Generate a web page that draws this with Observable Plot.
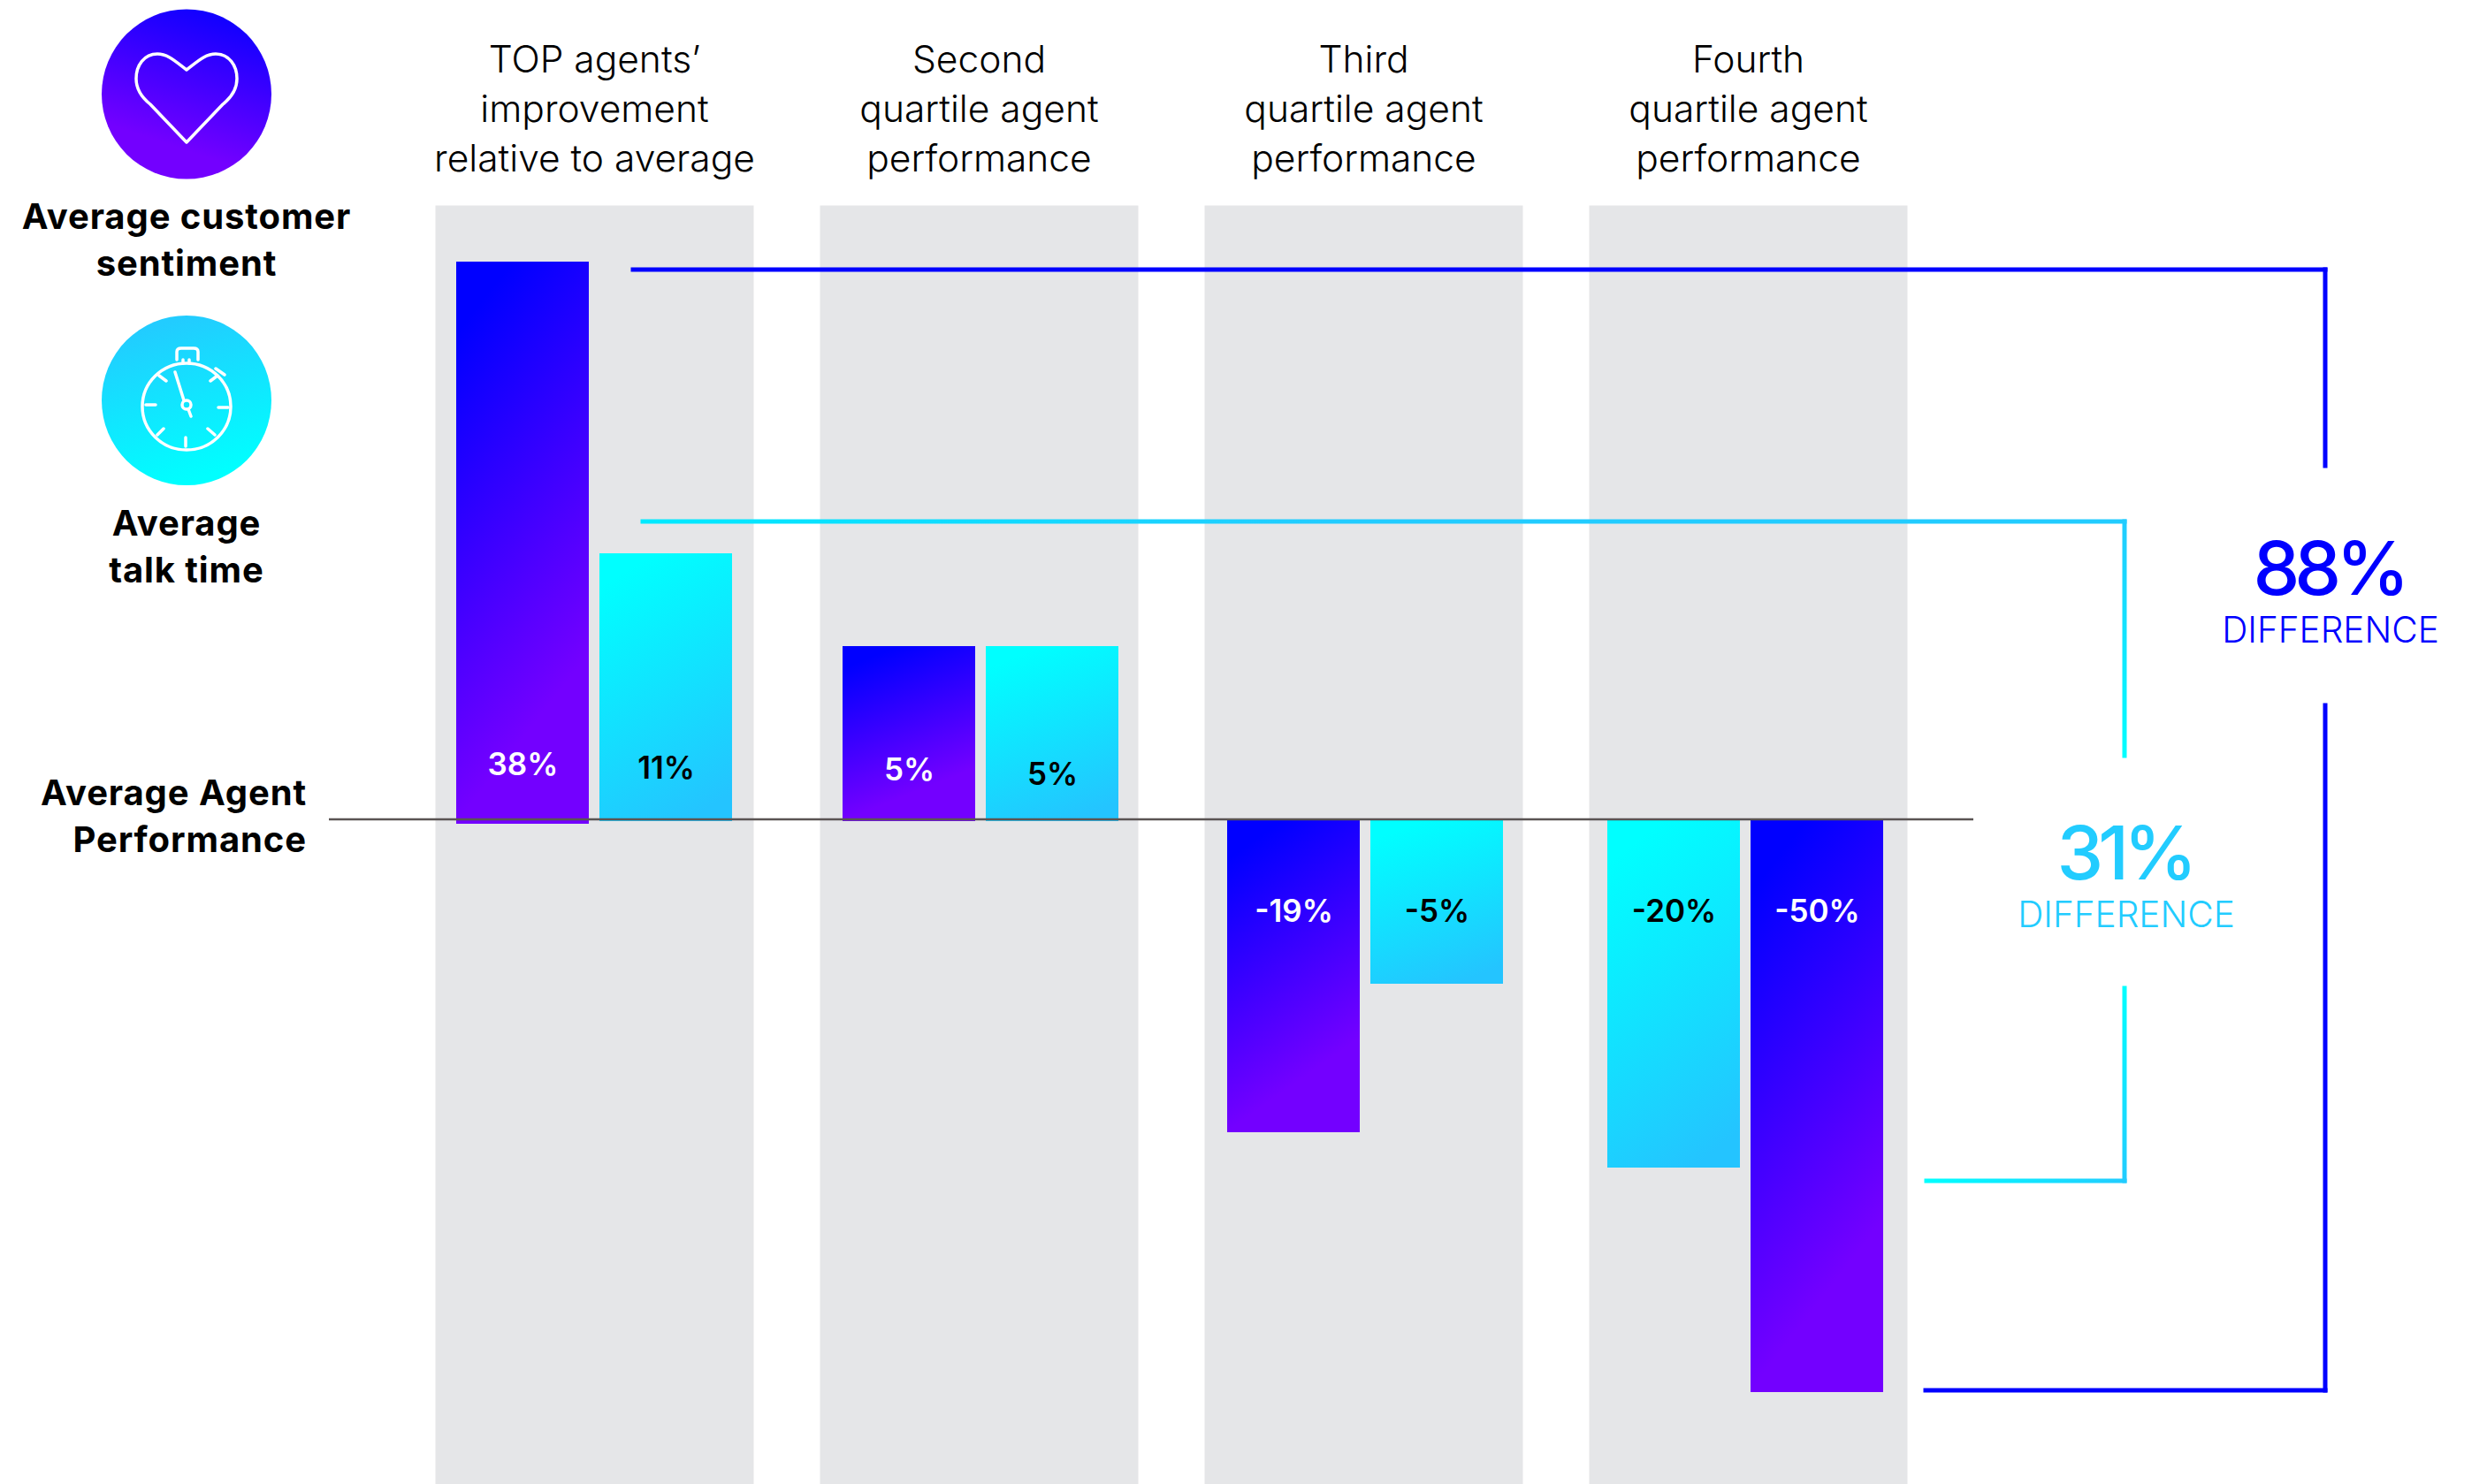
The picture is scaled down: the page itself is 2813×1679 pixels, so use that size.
<!DOCTYPE html>
<html>
<head>
<meta charset="utf-8">
<script src="https://cdn.jsdelivr.net/npm/d3@7"></script>
<script src="https://cdn.jsdelivr.net/npm/@observablehq/plot@0.6"></script>
<style>
  html, body { margin: 0; background: #fff; }
  svg { display: block; }
</style>
</head>
<body>
<div id="chart"></div>
<script>
// Agent quartiles and the two metrics compared within each of them.
const quartiles = [
  "TOP agents’\nimprovement\nrelative to average",
  "Second\nquartile agent\nperformance",
  "Third\nquartile agent\nperformance",
  "Fourth\nquartile agent\nperformance"
];
const sentimentValues = [38, 5, -19, -50];
const talkTimeValues = [11, 5, -5, -20];
const sentimentLabels = ["38%", "5%", "-19%", "-50%"];
const talkTimeLabels = ["11%", "5%", "-5%", "-20%"];
// Which metric sits in the left slot of each quartile.
const leftMetric = ["sentiment", "sentiment", "sentiment", "talk"];

const FONT = "Inter, 'Noto Sans', sans-serif";

const rows = quartiles.flatMap((quartile, i) => [
  {quartile, i, metric: "sentiment", value: sentimentValues[i], label: sentimentLabels[i],
   slot: leftMetric[i] === "sentiment" ? "left" : "right"},
  {quartile, i, metric: "talk", value: talkTimeValues[i], label: talkTimeLabels[i],
   slot: leftMetric[i] === "talk" ? "left" : "right"}
]);

// The value axis is hand-drawn and not proportional, so it is piecewise.
const yBreaks = [-50, -20, -19, -5, 0, 5, 11, 38];
const yPixels = [1575, 1321, 1281, 1113, 927, 731, 626, 296];

const fillFor = d => d.metric === "sentiment" ? "url(#grad-sentiment)" : "url(#grad-talk)";
const shiftFor = d => d.i === 3 ? -3 : d.i === 0 ? 0 : 2;
const overhangFor = d => d.value <= 0 ? 0 : d.value === 38 ? -5 : -2;
const labelDy = d => {
  if (d.value < 0) return 104;
  if (d.value === 38) return -62;
  if (d.value === 11) return -58;
  return d.metric === "sentiment" ? -56 : -51;
};

const plot = Plot.plot({
  width: 2813,
  height: 1679,
  marginTop: 232,
  marginBottom: 0,
  marginLeft: 492,
  marginRight: 656,
  style: {fontFamily: FONT, background: "#fff", color: "#000"},
  fx: {domain: quartiles, paddingInner: 75 / 435, paddingOuter: 0, round: false, axis: null, label: null},
  x: {domain: ["left", "right"], paddingInner: 12 / 162, paddingOuter: 24 / 162, round: false, axis: null, label: null},
  y: {type: "linear", domain: yBreaks, range: yPixels, axis: null, label: null},
  marks: [
    Plot.frame({fill: "#e5e6e8"}),
    Plot.axisFx({
      anchor: "top", tickSize: 0, tickPadding: 39, label: null,
      fontSize: 42.5, fontWeight: 300, lineHeight: 56 / 42.5, fill: "#000", tickFormat: d => d
    }),
    ...rows.map(d => Plot.barY([d], {
      fx: "quartile", x: "slot", y1: 0, y2: "value",
      fill: fillFor(d), dx: shiftFor(d), insetBottom: overhangFor(d)
    })),
    ...rows.map(d => Plot.text([d], {
      fx: "quartile", x: "slot", y: 0, text: "label",
      dy: labelDy(d), dx: shiftFor(d),
      fontSize: 35, fontWeight: 600,
      fill: d.metric === "sentiment" ? "#fff" : "#000"
    }))
  ]
});

const root = d3.select(plot);
const y = plot.scale("y").apply;
const defs = root.insert("defs", ":first-child");

function linear(id, [x1, y1, x2, y2], stops, units) {
  const g = defs.append("linearGradient").attr("id", id)
    .attr("x1", x1).attr("y1", y1).attr("x2", x2).attr("y2", y2);
  if (units) g.attr("gradientUnits", units);
  stops.forEach(([offset, color]) => g.append("stop").attr("offset", offset).attr("stop-color", color));
}

linear("grad-sentiment", [0.35, 0, 0.65, 1], [[0.02, "#0000ff"], [0.82, "#7300ff"]]);
linear("grad-talk", [0.35, 0, 0.65, 1], [[0.02, "#00ffff"], [1, "#24c4ff"]]);
linear("grad-heart", [0.7, 0.05, 0.4, 0.95], [[0, "#1200ff"], [0.85, "#7300ff"]]);
linear("grad-watch", [0.35, 0.05, 0.6, 0.95], [[0, "#22ccff"], [1, "#00ffff"]]);

// Baseline for "Average Agent Performance", over the bars.
root.append("line")
  .attr("x1", 372).attr("x2", 2232).attr("y1", y(0)).attr("y2", y(0))
  .attr("stroke", "#5a5453").attr("stroke-width", 2.5);

// Brackets tying the top and bottom performers together.
const BLUE = "#0000ff", SKY = "#22ccff", AQUA = "#00ffff";
const top1 = y(38) + 9, bottom1 = y(-50) - 2;
const top2 = y(11) - 36, bottom2 = y(-20) + 15;
const xBlue = 2630, xSky = 2403;

function segment(x1, y1, x2, y2, stroke) {
  root.append("line").attr("x1", x1).attr("y1", y1).attr("x2", x2).attr("y2", y2)
    .attr("stroke", stroke).attr("stroke-width", 5).attr("stroke-linecap", "square");
}
linear("sky-a", [725, 0, 1500, 0], [[0, "#00eaff"], [1, SKY]], "userSpaceOnUse");
linear("sky-b", [0, top2, 0, 857], [[0, SKY], [1, AQUA]], "userSpaceOnUse");
linear("sky-c", [0, 1116, 0, bottom2], [[0, AQUA], [1, SKY]], "userSpaceOnUse");
linear("sky-d", [2177, 0, xSky, 0], [[0, AQUA], [1, SKY]], "userSpaceOnUse");

segment(716, top1, xBlue, top1, BLUE);
segment(xBlue, top1, xBlue, 527, BLUE);
segment(xBlue, 798, xBlue, bottom1, BLUE);
segment(2178, bottom1, xBlue, bottom1, BLUE);

segment(727, top2, xSky, top2, "url(#sky-a)");
segment(xSky, top2, xSky, 855, "url(#sky-b)");
segment(xSky, 1118, xSky, bottom2, "url(#sky-c)");
segment(2179, bottom2, xSky, bottom2, "url(#sky-d)");

function label(text, x, yMid, size, weight, fill, anchor = "middle", tracking = 0) {
  root.append("text").text(text)
    .attr("x", x).attr("y", yMid).attr("dominant-baseline", "central")
    .attr("text-anchor", anchor).attr("font-family", FONT)
    .attr("font-size", size).attr("font-weight", weight).attr("fill", fill)
    .attr("letter-spacing", tracking);
}

label("88%", 2634, 642, 84, 500, BLUE, "middle", -6);
label("DIFFERENCE", 2636, 712, 40.5, 300, BLUE);
label("31%", 2403, 964, 84, 500, SKY, "middle", -6);
label("DIFFERENCE", 2405, 1034, 40.5, 300, SKY);

label("Average customer", 211, 244, 40, 700, "#000", "middle", 0.9);
label("sentiment", 211, 297, 40, 700, "#000", "middle", 0.9);
label("Average", 211, 591, 40, 700, "#000", "middle", 0.9);
label("talk time", 211, 644, 40, 700, "#000", "middle", 0.9);
label("Average Agent", 347, 896, 40, 700, "#000", "end", 0.9);
label("Performance", 347, 949, 40, 700, "#000", "end", 0.9);

// Metric badges.
root.append("circle").attr("cx", 211).attr("cy", 106.5).attr("r", 96).attr("fill", "url(#grad-heart)");
root.append("circle").attr("cx", 211).attr("cy", 453).attr("r", 96).attr("fill", "url(#grad-watch)");

const icon = root.append("g").attr("fill", "none").attr("stroke", "#fff")
  .attr("stroke-width", 3.5).attr("stroke-linecap", "round").attr("stroke-linejoin", "round");

icon.append("path").attr("d",
  "M211,79 C199,70 190,61 178,61 C163,61 154,74 154,89 C154,100 160,110 170,118 L211,161 " +
  "L252,118 C262,110 268,100 268,89 C268,74 259,61 244,61 C232,61 223,70 211,79 Z");

icon.append("ellipse").attr("cx", 211).attr("cy", 460).attr("rx", 50).attr("ry", 49);
icon.append("circle").attr("cx", 211).attr("cy", 458).attr("r", 5);
icon.append("path").attr("d", [
  "M198,421 L208,453", "M213,463 L216,471",                 // hand and tail
  "M200,407 L200,398 Q200,394 205,394 L219,394 Q224,394 224,398 L224,407", // crown
  "M207,407 L207,411", "M214,407 L214,411",
  "M244,417 L254,424",                                     // side button
  "M180,425 L188,431", "M246,425 L238,431",                // upper ticks
  "M165,458 L176,458", "M247,461 L258,461",                // 9 and 3 o'clock
  "M178,492 L185,485", "M243,492 L235,485",                // lower ticks
  "M210,495 L210,505"                                      // 6 o'clock
].join(" "));

document.getElementById("chart").appendChild(plot);
</script>
</body>
</html>
